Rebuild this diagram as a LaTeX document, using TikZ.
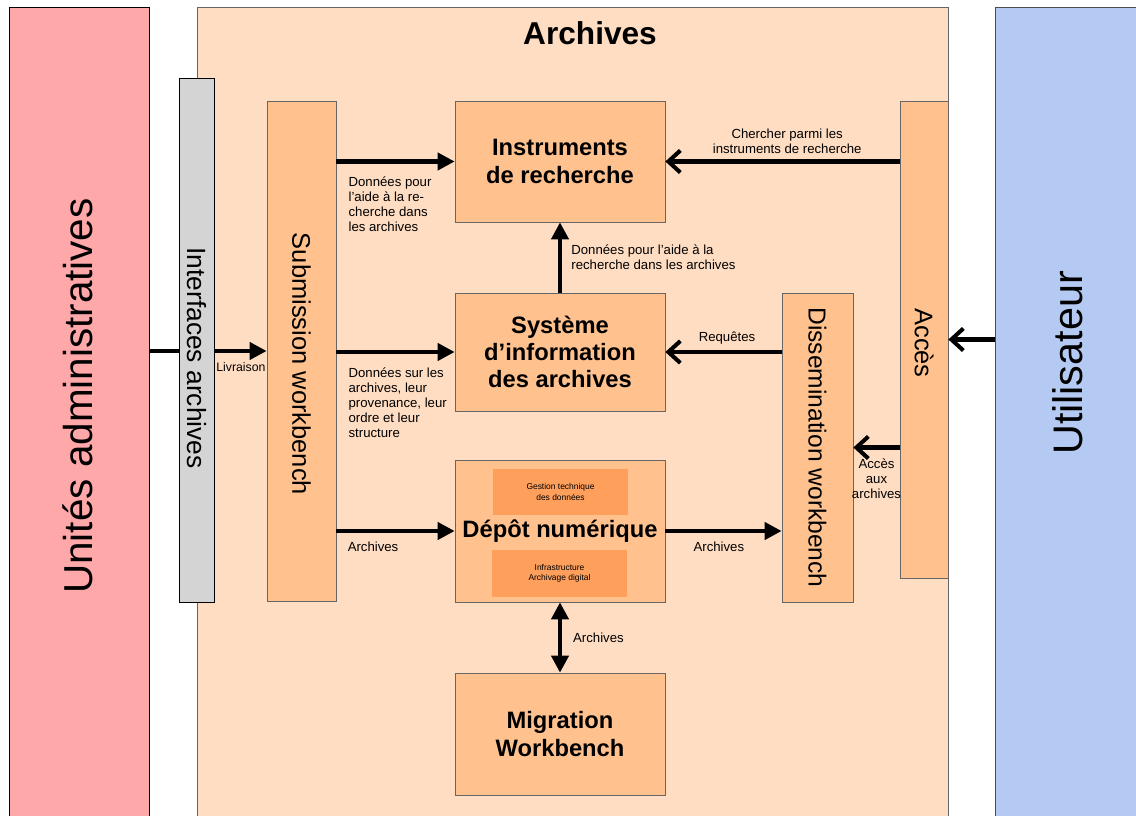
\documentclass[tikz,border=0pt]{standalone}
\usepackage{fontspec}
\setmainfont{Liberation Sans}
\usepackage{tikz}
\usetikzlibrary{arrows.meta, positioning}
\usepackage{xcolor}
\definecolor{rose}{HTML}{FFA8AA}
\definecolor{fondarch}{HTML}{FFDDC3}
\definecolor{orangeboite}{HTML}{FFC28F}
\definecolor{orangeint}{HTML}{FF9F5C}
\definecolor{grisint}{HTML}{D4D4D4}
\definecolor{bleuutil}{HTML}{B5CAF3}

\begin{document}
\begin{tikzpicture}[
    boite/.style={draw=black!60, fill=orangeboite, inner sep=0pt, align=center,
        font=\bfseries\fontsize{13.5}{16}\selectfont},
    interne/.style={fill=orangeint, inner sep=0pt, minimum width=2.7cm, minimum height=0.93cm,
        align=center, font=\fontsize{4.8}{6}\selectfont},
    vertical/.style={rotate=-90, font=\fontsize{14.5}{17}\selectfont},
    etiq/.style={font=\fontsize{7.5}{8.6}\selectfont, align=left},
    fleche/.style={line width=2.3pt, -{Triangle[length=3.4mm, width=3.4mm]}},
    retour/.style={line width=2.3pt, -{Straight Barb[length=2.4mm, width=4.4mm]}}
]
    \useasboundingbox (0,0) rectangle (22.72,16.3);
    % Unités administratives
    \node[draw=black, fill=rose, inner sep=0pt, anchor=north west,
        minimum width=2.8cm, minimum height=16.6cm] (unites) at (0.18,16.16) {};
    \node[rotate=90, font=\fontsize{23}{27}\selectfont] at (1.56,8.38) {Unités administratives};
    % Utilisateur
    \node[draw=black!70, fill=bleuutil, inner sep=0pt, anchor=north west,
        minimum width=3.2cm, minimum height=16.6cm] (util) at (19.9,16.16) {};
    \node[rotate=90, font=\fontsize{23.5}{27}\selectfont] at (21.36,9.04) {Utilisateur};
    % Archives (fond)
    \node[draw=black!60, fill=fondarch, inner sep=0pt, anchor=north west,
        minimum width=15.02cm, minimum height=16.6cm] (archives) at (3.94,16.16) {};
    \node[font=\bfseries\fontsize{18}{21}\selectfont] at (11.8,15.64) {Archives};

    % Submission workbench
    \node[boite, minimum width=1.38cm, minimum height=10cm] (sub) at (6.03,9.28) {};
    \node[vertical] at ([yshift=-0.26cm]sub.center) {Submission workbench};
    % Livraison (passe sous l'interface)
    \draw[fleche] (sub.west -| unites.east) -- node[etiq, below, pos=0.78, yshift=-2pt,
        font=\fontsize{7}{8}\selectfont] {Livraison} (sub.west);
    % Interfaces archives
    \node[draw=black, fill=grisint, inner sep=0pt, minimum width=0.7cm, minimum height=10.48cm]
        (interf) at (3.93,9.5) {};
    \node[vertical, font=\fontsize{15}{17}\selectfont] at ([yshift=-0.36cm]interf.center) {Interfaces archives};

    % Boites centrales
    \node[boite, minimum width=4.2cm, minimum height=2.42cm] (instr) at (11.2,13.07) {Instruments\\de recherche};
    \node[boite, minimum width=4.2cm, minimum height=2.36cm, font=\bfseries\fontsize{13.5}{15.4}\selectfont]
        (sia) at (11.2,9.26) {Système\\d’information\\des archives};
    \node[boite, minimum width=4.2cm, minimum height=2.84cm] (depot) at (11.2,5.68) {Dépôt numérique};
    \node[interne] (gestion) at (11.21,6.46) {Gestion technique\\des données};
    \node[interne] (infra) at (11.19,4.83) {Infrastructure\\Archivage digital};
    \node[boite, minimum width=4.2cm, minimum height=2.44cm] (migr) at (11.2,1.62) {Migration\\Workbench};

    % Dissemination workbench et Accès
    \node[boite, minimum width=1.42cm, minimum height=6.18cm] (diss) at (16.35,7.35) {};
    \node[vertical, font=\fontsize{14}{17}\selectfont] at (diss.center) {Dissemination workbench};
    \node[boite, minimum width=0.96cm, minimum height=9.54cm] (acces) at (18.48,9.51) {};
    \node[vertical] at ([yshift=-0.07cm]acces.center) {Accès};

    % Fleches depuis Submission
    \draw[fleche] (instr.west -| sub.east) -- (instr.west)
        node[etiq, at start, anchor=north west, xshift=2.5pt, yshift=-4pt]
        {Données pour\\l’aide à la re-\\cherche dans\\les archives};
    \draw[fleche] (sia.west -| sub.east) -- (sia.west)
        node[etiq, at start, anchor=north west, xshift=2.5pt, yshift=-4.5pt]
        {Données sur les\\archives, leur\\provenance, leur\\ordre et leur\\structure};
    \draw[fleche] (depot.west -| sub.east) -- node[etiq, below, pos=0.31, yshift=-2pt] {Archives} (depot.west);
    % Systeme -> Instruments
    \draw[fleche] (sia.north) -- node[etiq, right, xshift=2pt] {Données pour l’aide à la\\recherche dans les archives} (instr.south);
    % Depot <-> Migration
    \draw[line width=2.3pt, {Triangle[length=3.4mm, width=3.4mm]}-{Triangle[length=3.4mm, width=3.4mm]}]
        (depot.south) -- node[etiq, right, xshift=3pt] {Archives} (migr.north);
    % Depot -> Dissemination
    \draw[fleche] (depot.east) -- node[etiq, below, pos=0.46, yshift=-2pt] {Archives} (depot.east -| diss.west);
    % Fleches de retour
    \draw[retour] (instr.east -| acces.west) -- node[etiq, above, align=center, pos=0.48]
        {Chercher parmi les\\instruments de recherche} (instr.east);
    \draw[retour] (sia.east -| diss.west) -- node[etiq, above, pos=0.47] {Requêtes} (sia.east);
    \draw[retour] (diss.east -| acces.west) -- node[etiq, below, align=center, yshift=-2pt]
        {Accès\\aux\\archives} (diss.east);
    \draw[retour] (acces.east -| util.west) -- (acces.east);
\end{tikzpicture}
\end{document}
